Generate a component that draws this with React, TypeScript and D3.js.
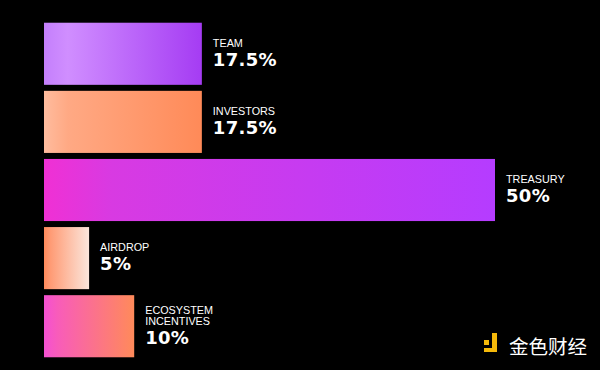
import React from "react";
import * as d3 from "d3";

const categories = ["TEAM", "INVESTORS", "TREASURY", "AIRDROP", "ECOSYSTEM INCENTIVES"];
const labelLines = [["TEAM"], ["INVESTORS"], ["TREASURY"], ["AIRDROP"], ["ECOSYSTEM", "INCENTIVES"]];
const values = [17.5, 17.5, 50, 5, 10];
const valueLabels = ["17.5%", "17.5%", "50%", "5%", "10%"];
const gradients: [string, string, string][] = [
  ["#c47ffc", "#d08eff", "#a53cf3"],
  ["#ffbc9e", "#ffa984", "#ff8a58"],
  ["#f030d4", "#d83ae2", "#b53cff"],
  ["#ff8a5a", "#ff9c76", "#fbe6dc"],
  ["#f450d2", "#f85cba", "#ff8a5a"],
];

const W = 600;
const H = 370;

export default function App() {
  const x = d3.scaleLinear().domain([0, 50]).range([44, 495]);
  const y = d3.scaleBand<string>().domain(categories).range([20, 360]).paddingInner(6 / 68).paddingOuter(0.04);
  const bh = y.bandwidth();
  const font = "'Liberation Sans', Arial, Helvetica, sans-serif";
  return (
    <svg width={W} height={H} style={{ position: "absolute", left: 0, top: 0, background: "#000" }}>
      <defs>
        {gradients.map((g, i) => (
          <linearGradient key={i} id={`g${i}`} x1="0" x2="1" y1="0" y2="0">
            <stop offset="0" stopColor={g[0]} />
            <stop offset="0.15" stopColor={g[1]} />
            <stop offset="1" stopColor={g[2]} />
          </linearGradient>
        ))}
      </defs>
      <rect x={0} y={0} width={W} height={H} fill="#000" />
      {categories.map((c, i) => {
        const y0 = y(c)!;
        const x1 = x(values[i]);
        const lines = labelLines[i];
        const total = lines.length * 11 + 19;
        const top = y0 + bh / 2 - total / 2;
        return (
          <g key={c}>
            <rect x={x(0)} y={y0} width={x1 - x(0)} height={bh} fill={`url(#g${i})`} />
            {lines.map((l, j) => (
              <text key={j} x={x1 + 11} y={top + 8 + j * 11} fill="#fff" fontFamily={font} fontSize={10.8}>
                {l}
              </text>
            ))}
            <text
              x={x1 + 11}
              y={top + lines.length * 11 + 16}
              fill="#fff"
              fontFamily="'DejaVu Sans', sans-serif"
              fontSize={18}
              fontWeight="bold"
              letterSpacing={0.3}
            >
              {valueLabels[i]}
            </text>
          </g>
        );
      })}
      <g>
        <rect x={484} y={340} width={5} height={5} fill="#f5b90a" />
        <rect x={492} y={333} width={5} height={19} fill="#f5b90a" />
        <rect x={484} y={348} width={13} height={4} fill="#f5b90a" />
        <text x={509} y={354} fill="#fff" fontFamily="'Noto Sans CJK SC', sans-serif" fontSize={19.5}>
          金色财经
        </text>
      </g>
    </svg>
  );
}
